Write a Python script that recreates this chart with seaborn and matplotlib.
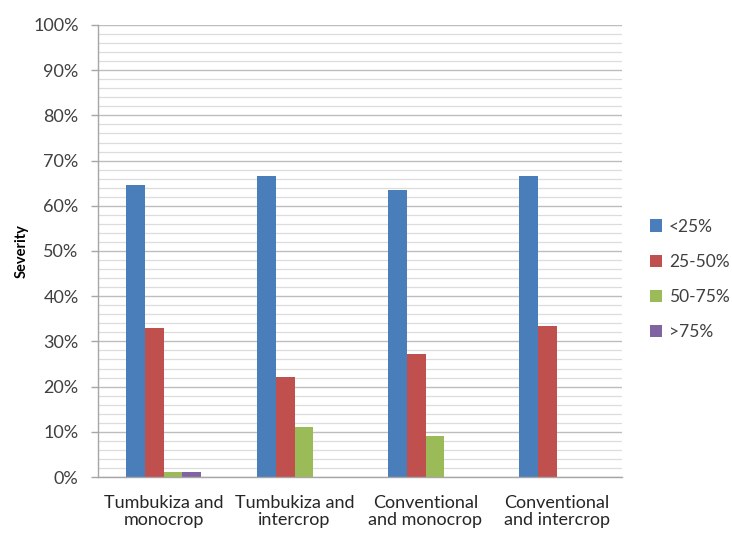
import matplotlib
matplotlib.use("Agg")
import matplotlib.pyplot as plt
from matplotlib.ticker import MultipleLocator, PercentFormatter
import seaborn as sns
import pandas as pd

# Severity distribution per cultivation system (percent of plots)
systems = ["Tumbukiza and\nmonocrop", "Tumbukiza and\nintercrop",
           "Conventional\nand monocrop", "Conventional\nand intercrop"]
severity_classes = ["<25%", "25-50%", "50-75%", ">75%"]
sev_lt25 = [64.5, 66.7, 63.6, 66.7]
sev_25_50 = [32.9, 22.2, 27.3, 33.3]
sev_50_75 = [1.2, 11.1, 9.1, 0.0]
sev_gt75 = [1.2, 0.0, 0.0, 0.0]
palette = ["#4A7EBB", "#C0504D", "#9BBB59", "#8064A2"]

rows = []
for cls, vals in zip(severity_classes, [sev_lt25, sev_25_50, sev_50_75, sev_gt75]):
    for sys_name, v in zip(systems, vals):
        rows.append({"system": sys_name, "class": cls, "value": v})
df = pd.DataFrame(rows)

sns.set_theme(style="white")
plt.rcParams["font.family"] = ["Lato", "DejaVu Sans"]

fig = plt.figure(figsize=(7.32, 5.34), dpi=100)
ax = fig.add_axes([98 / 732, 1 - 477 / 534, (622 - 98) / 732, (477 - 25) / 534])

sns.barplot(data=df, x="system", y="value", hue="class", order=systems,
            hue_order=severity_classes, palette=palette, width=0.565,
            saturation=1, ax=ax, edgecolor="none", legend=True)

ax.set_ylim(0, 100)
ax.set_xlim(-0.5, 3.5)
ax.yaxis.set_major_locator(MultipleLocator(10))
ax.yaxis.set_minor_locator(MultipleLocator(2))
ax.yaxis.set_major_formatter(PercentFormatter(decimals=0))
ax.grid(axis="y", which="major", color="#bdbdbd", linewidth=1.0)
ax.grid(axis="y", which="minor", color="#dcdcdc", linewidth=0.9)
ax.set_axisbelow(True)

for side in ["top", "right"]:
    ax.spines[side].set_visible(False)
for side in ["left", "bottom"]:
    ax.spines[side].set_color("#a6a6a6")
    ax.spines[side].set_linewidth(1.0)

ax.tick_params(axis="y", which="major", left=True, length=5, width=1,
               color="#a6a6a6", labelsize=13, labelcolor="#404040", pad=9)
ax.tick_params(axis="y", which="minor", left=False)
ax.tick_params(axis="x", bottom=False, labelsize=13, labelcolor="#262626", pad=7)
for lbl in ax.get_xticklabels():
    lbl.set_linespacing(1.05)

ax.set_xlabel("")
ax.set_ylabel("Severity", fontsize=10.5, fontweight="bold", color="#000000", labelpad=3)

leg = ax.legend(loc="upper left", bbox_to_anchor=(1.04, 0.587), frameon=False,
                fontsize=12.5, handlelength=0.7, handleheight=0.7,
                handletextpad=0.4, labelspacing=1.1, borderaxespad=0)
for t in leg.get_texts():
    t.set_color("#404040")

fig.savefig("out.png", dpi=100, facecolor="white")
